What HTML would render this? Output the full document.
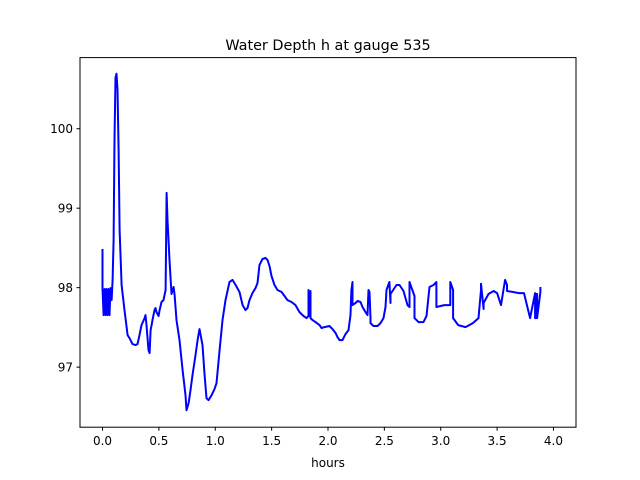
<!DOCTYPE html>
<html><head><meta charset="utf-8"><style>
html,body{margin:0;padding:0;background:#fff;}
svg{display:block;font-family:"DejaVu Sans","Liberation Sans",sans-serif;}
</style></head><body>
<svg id="chart" width="640" height="480" viewBox="0 0 640 480">
<rect width="640" height="480" fill="#fff"/>
<text x="328" y="50" font-size="14.4" text-anchor="middle">Water Depth h at gauge 535</text>
<g id="ticks"></g>
<path id="series" fill="none" stroke="#0000ff" stroke-width="2" stroke-linejoin="round"/>
<rect x="80" y="57.6" width="496" height="369.6" fill="none" stroke="#000" stroke-width="1"/>
<text x="328" y="467" font-size="12" text-anchor="middle">hours</text>
</svg>
<script>
const hours=[0,0,.009,.018,.027,.035,.044,.053,.062,.071,.080,.089,.098,.106,.115,.124,.133,.142,.151,.169,.195,.222,.239,.266,.293,.310,.328,.346,.373,.381,.390,.408,.417,.426,.435,.443,.461,.470,.479,.497,.506,.523,.541,.559,.568,.576,.594,.612,.630,.639,.656,.683,.710,.736,.745,.763,.780,.798,.825,.843,.860,.887,.905,.922,.940,.967,.993,1.011,1.038,1.064,1.091,1.126,1.153,1.180,1.215,1.242,1.268,1.286,1.304,1.330,1.357,1.375,1.392,1.419,1.446,1.463,1.481,1.499,1.525,1.552,1.588,1.614,1.641,1.676,1.712,1.747,1.783,1.809,1.827,1.827,1.836,1.845,1.845,1.863,1.889,1.925,1.942,1.969,2.013,2.040,2.067,2.084,2.102,2.129,2.155,2.182,2.200,2.208,2.217,2.217,2.244,2.262,2.288,2.306,2.333,2.350,2.359,2.368,2.377,2.377,2.404,2.439,2.466,2.492,2.510,2.519,2.545,2.554,2.554,2.608,2.634,2.670,2.705,2.723,2.723,2.767,2.767,2.803,2.847,2.874,2.900,2.936,2.962,2.962,3.032,3.085,3.085,3.110,3.110,3.155,3.220,3.285,3.335,3.357,3.357,3.380,3.380,3.424,3.469,3.500,3.535,3.571,3.588,3.588,3.641,3.694,3.739,3.793,3.837,3.837,3.846,3.846,3.855,3.855,3.884,3.884,3.928,3.964];
const depth=[98.487,97.983,97.655,97.983,97.655,97.983,97.655,97.983,97.655,97.995,97.844,98.097,98.601,99.861,100.643,100.693,100.492,99.735,98.727,98.033,97.718,97.403,97.365,97.290,97.277,97.290,97.403,97.529,97.617,97.655,97.529,97.214,97.176,97.466,97.529,97.592,97.718,97.744,97.693,97.643,97.718,97.819,97.844,97.970,99.193,98.853,98.349,97.920,98.008,97.907,97.592,97.340,96.962,96.647,96.458,96.546,96.710,96.899,97.151,97.340,97.479,97.277,96.899,96.609,96.584,96.647,96.723,96.798,97.214,97.592,97.844,98.071,98.097,98.033,97.945,97.781,97.718,97.744,97.844,97.933,97.995,98.059,98.286,98.361,98.374,98.349,98.273,98.147,98.033,97.970,97.945,97.895,97.844,97.819,97.781,97.693,97.643,97.617,97.643,97.970,97.643,97.958,97.617,97.592,97.567,97.529,97.492,97.504,97.517,97.479,97.429,97.378,97.340,97.340,97.416,97.466,97.655,97.970,98.071,97.781,97.807,97.832,97.819,97.756,97.693,97.655,97.970,97.945,97.617,97.554,97.517,97.517,97.554,97.617,97.755,97.970,98.071,97.807,97.920,98.033,98.033,97.958,97.781,97.756,98.071,97.895,97.617,97.567,97.567,97.643,98.008,98.033,98.071,97.756,97.781,97.781,98.071,97.970,97.617,97.529,97.504,97.554,97.617,97.970,98.050,97.731,97.807,97.920,97.958,97.932,97.781,98.097,98.033,97.958,97.945,97.932,97.932,97.617,97.932,97.617,97.617,97.920,97.920,97.617,97.945,98.008];
const xTicks=[0,0.5,1,1.5,2,2.5,3,3.5,4];
const xTickLabels=["0.0","0.5","1.0","1.5","2.0","2.5","3.0","3.5","4.0"];
const yTicks=[97,98,99,100];
const yTickLabels=["97","98","99","100"];
const X0=80,X1=576,Y0=427.2,Y1=57.6,XMIN=-0.2,XMAX=4.2,YMIN=96.244,YMAX=100.895;
function sx(v){return X0+(v-XMIN)/(XMAX-XMIN)*(X1-X0);}
function sy(v){return Y0-(v-YMIN)/(YMAX-YMIN)*(Y0-Y1);}
const NS="http://www.w3.org/2000/svg";
const g=document.getElementById('ticks');
xTicks.forEach((t,i)=>{
 const l=document.createElementNS(NS,'line');
 
 
 l.setAttribute('x1',sx(t));l.setAttribute('x2',sx(t));l.setAttribute('y1',Y0);l.setAttribute('y2',Y0+3.5);l.setAttribute('stroke','#000');
 g.appendChild(l);
 const tx=document.createElementNS(NS,'text');
 
 
 tx.setAttribute('x',sx(t));tx.setAttribute('y',Y0+18);tx.setAttribute('font-size','12');tx.setAttribute('text-anchor','middle');
 tx.textContent=xTickLabels[i];g.appendChild(tx);
});
yTicks.forEach((t,i)=>{
 const l=document.createElementNS(NS,'line');
 
 
 l.setAttribute('x1',X0-3.5);l.setAttribute('x2',X0);l.setAttribute('y1',sy(t));l.setAttribute('y2',sy(t));l.setAttribute('stroke','#000');
 g.appendChild(l);
 const tx=document.createElementNS(NS,'text');
 
 
 tx.setAttribute('x',X0-7);tx.setAttribute('y',sy(t)+4.5);tx.setAttribute('font-size','12');tx.setAttribute('text-anchor','end');
 tx.textContent=yTickLabels[i];g.appendChild(tx);
});
let d='';
hours.forEach((h,i)=>{d+=(i?'L':'M')+sx(h).toFixed(1)+','+sy(depth[i]).toFixed(1);});
document.getElementById('series').setAttribute('d',d);
</script>
</body></html>
